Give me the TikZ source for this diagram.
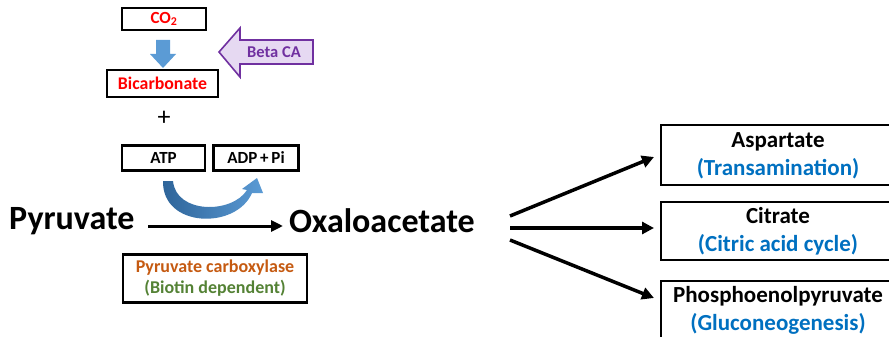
\documentclass[tikz,border=0pt]{standalone}
\usepackage{fontspec}
\setmainfont{Carlito}
\usetikzlibrary{arrows.meta}
\definecolor{rd}{HTML}{FF0000}
\definecolor{bl}{HTML}{0070C0}
\definecolor{or}{HTML}{C55A11}
\definecolor{gr}{HTML}{548235}
\definecolor{pu}{HTML}{7030A0}
\definecolor{pul}{HTML}{E6D9F2}
\definecolor{ab}{HTML}{5B9BD5}
\definecolor{abd}{HTML}{2E6499}
\tikzset{
  box/.style={draw=black, line width=2.3pt, inner sep=0pt},
  bigtxt/.style={font=\fontsize{34}{38}\selectfont\bfseries, inner sep=0pt},
  fatarrow/.style={draw=black, line width=3.5pt, -{Triangle[length=12pt,width=12pt]}},
  mainarrow/.style={draw=black, line width=3pt, -{Triangle[length=12pt,width=11pt]}},
  rtxt/.style={inner sep=0pt, align=center, font=\fontsize{23}{28}\selectfont\bfseries},
}
\begin{document}
\begin{tikzpicture}[x=1pt,y=-1pt]
\useasboundingbox (0,0) rectangle (889,337);
% top boxes
\node[box, minimum width=84pt, minimum height=22pt, font=\fontsize{17}{19}\selectfont\bfseries, text=rd] (co2) at (164,19) {CO\textsubscript{2}};
\node[box, minimum width=111pt, minimum height=27pt, font=\fontsize{17.8}{19}\selectfont\bfseries, text=rd] (bic) at (162.5,83.5) {Bicarbonate};
% blue down arrow
\fill[ab] (156,40) -- (170,40) -- (170,54) -- (176,54) -- (163,68) -- (150,54) -- (156,54) -- cycle;
% Beta CA arrow
\draw[pu, fill=pul, line width=1.6pt, line join=miter] (219,52) -- (240,28) -- (240,40) -- (313,40) -- (313,64) -- (240,64) -- (240,77) -- cycle;
\node[text=pu, font=\fontsize{16.5}{18}\selectfont\bfseries, inner sep=0pt] (beta) at (274,52) {Beta CA};
% plus
\node[font=\fontsize{26}{28}\selectfont, inner sep=0pt] (plus) at (164,118) {+};
% ATP / ADP
\node[box, minimum width=83pt, minimum height=25pt, font=\fontsize{17}{19}\selectfont\bfseries] (atp) at (163.5,158) {ATP};
\node[box, minimum width=85pt, minimum height=25pt, font=\fontsize{17}{19}\selectfont\bfseries] (adp) at (256,158) {ADP\,+\,Pi};
% curved arrow
\shade[left color=abd, right color=ab]
  (163,181) .. controls (162,228) and (236,230) .. (252,193)
  -- (263,193) -- (257,178) -- (242,189) -- (247,190)
  .. controls (232,214) and (176,214) .. (173,181) -- cycle;
% main row
\node[bigtxt, anchor=west] (pyr) at (9,221) {Pyruvate};
\node[bigtxt, anchor=west] (oxa) at (289,221) {Oxaloacetate};
\coordinate (a1) at (148,226);
\coordinate (a2) at (283,226);
\path[mainarrow] (a1) -- (a2);
% enzyme box
\node[box, minimum width=184pt, minimum height=48pt, align=center, font=\fontsize{18}{21}\selectfont\bfseries] (enz) at (215,278.5) {\textcolor{or}{Pyruvate carboxylase}\\\textcolor{gr}{(Biotin dependent)}};
% right boxes
\draw[box] (911,125) -- (661,125) -- (661,185) -- (911,185);
\draw[box] (911,202) -- (661,202) -- (661,260) -- (911,260);
\draw[box] (911,340) -- (661,340) -- (661,281) -- (911,281);
\node[rtxt] (asp) at (778,156) {Aspartate\\\textcolor{bl}{(Transamination)}};
\node[rtxt] (cit) at (778,231) {Citrate\\\textcolor{bl}{(Citric acid cycle)}};
\node[rtxt] (pep) at (778,310) {Phosphoenolpyruvate\\\textcolor{bl}{(Gluconeogenesis)}};
\coordinate (s1) at (510,216);
\coordinate (s2) at (510,228);
\coordinate (s3) at (510,240);
\coordinate (e1) at (654,157);
\coordinate (e2) at (654,228);
\coordinate (e3) at (654,298);
\path[fatarrow] (s1) -- (e1);
\path[fatarrow] (s2) -- (e2);
\path[fatarrow] (s3) -- (e3);
\end{tikzpicture}
\end{document}
